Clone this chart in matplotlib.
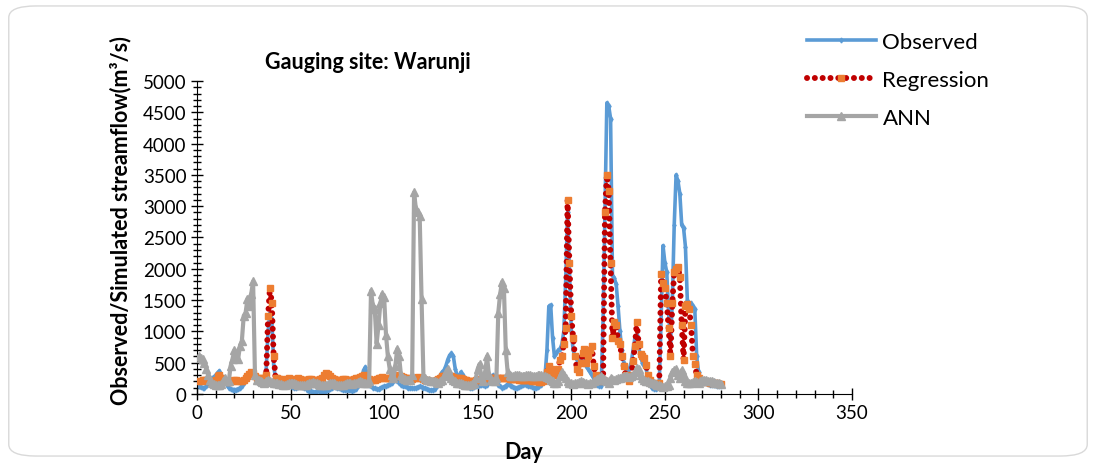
import numpy as np
import matplotlib
matplotlib.use('Agg')
import matplotlib.pyplot as plt
from matplotlib.patches import FancyBboxPatch
from matplotlib.ticker import MultipleLocator

plt.rcParams['font.family'] = ['Lato', 'DejaVu Sans']

days = np.arange(1, 281)

observed = [
    120, 110, 100, 100, 120, 180, 230, 250, 270, 300,
    340, 370, 300, 250, 200, 150, 100, 80, 70, 70,
    70, 80, 90, 130, 180, 240, 300, 350, 330, 300,
    280, 260, 250, 240, 250, 280, 400, 1000, 1300, 1200,
    450, 250, 200, 180, 170, 160, 150, 140, 130, 120,
    110, 100, 100, 110, 120, 110, 100, 90, 70, 50,
    40, 30, 30, 40, 50, 40, 30, 30, 40, 60,
    80, 100, 120, 110, 100, 90, 80, 70, 60, 60,
    70, 60, 50, 60, 80, 120, 180, 250, 380, 430,
    300, 150, 120, 100, 90, 80, 80, 90, 110, 120,
    130, 140, 160, 180, 200, 220, 200, 180, 150, 130,
    120, 110, 100, 100, 90, 90, 100, 110, 120, 110,
    100, 90, 80, 70, 60, 60, 80, 120, 200, 300,
    350, 380, 450, 550, 620, 650, 600, 400, 300, 250,
    350, 300, 200, 150, 120, 100, 100, 110, 120, 130,
    140, 150, 140, 130, 150, 200, 250, 300, 250, 200,
    150, 120, 100, 110, 130, 160, 150, 130, 110, 100,
    100, 110, 120, 140, 160, 150, 130, 120, 110, 100,
    100, 110, 120, 150, 200, 300, 700, 1400, 1420, 900,
    600, 650, 700, 720, 800, 1000, 1800, 2900, 2000, 1000,
    700, 600, 550, 500, 600, 650, 550, 450, 400, 350,
    300, 250, 200, 150, 130, 130, 1200, 2900, 4650, 4600,
    4400, 1900, 1850, 1750, 1400, 1000, 700, 500, 400, 350,
    400, 500, 700, 900, 950, 750, 600, 500, 450, 400,
    250, 150, 100, 80, 80, 100, 150, 1200, 2370, 2100,
    1950, 1300, 800, 1500, 2700, 3500, 3400, 3200, 2700, 2650,
    2350, 1500, 1450, 1450, 1400, 1350, 600, 350, 250, 200,
    180, 170, 160, 150, 150, 140, 140, 130, 130, 120,
]

regression = [
    200, 210, 220, 230, 220, 210, 200, 200, 210, 220,
    280, 300, 250, 220, 210, 200, 190, 200, 210, 220,
    220, 210, 200, 210, 230, 250, 280, 320, 350, 330,
    280, 260, 250, 240, 250, 260, 300, 1250, 1700, 1450,
    600, 260, 250, 240, 240, 230, 230, 240, 250, 240,
    230, 230, 240, 250, 240, 230, 220, 220, 230, 240,
    240, 230, 220, 220, 230, 240, 260, 300, 330, 320,
    280, 250, 240, 230, 220, 220, 230, 240, 240, 230,
    220, 220, 230, 240, 250, 260, 270, 280, 300, 280,
    260, 240, 230, 220, 230, 240, 250, 260, 270, 260,
    250, 250, 260, 270, 280, 290, 300, 290, 280, 270,
    260, 250, 250, 240, 240, 250, 260, 270, 260, 250,
    240, 230, 220, 210, 200, 200, 210, 220, 240, 260,
    280, 290, 300, 300, 290, 280, 270, 260, 250, 250,
    250, 240, 230, 220, 210, 200, 200, 210, 220, 230,
    230, 240, 240, 250, 250, 250, 260, 260, 260, 260,
    260, 260, 260, 250, 250, 250, 240, 240, 240, 240,
    240, 230, 230, 230, 230, 220, 220, 220, 210, 210,
    200, 200, 190, 190, 200, 250, 350, 450, 400, 300,
    300, 350, 400, 550, 600, 800, 1050, 3100, 2100, 1250,
    900, 600, 400, 350, 500, 650, 720, 500, 600, 700,
    760, 450, 300, 250, 220, 200, 220, 2900, 3500, 3250,
    2100, 900, 1150, 1100, 850, 800, 600, 450, 300, 250,
    200, 300, 530, 760, 1150, 800, 640, 600, 580, 470,
    300, 220, 180, 160, 160, 170, 180, 1920, 1780, 1700,
    1450, 1050, 600, 1450, 1950, 2000, 2030, 1870, 1100, 550,
    1400, 1430, 1350, 1100, 600, 480, 300, 250, 220, 200,
    200, 190, 190, 180, 180, 180, 170, 170, 160, 160,
]

ann = [
    600, 580, 560, 500, 400, 300, 220, 180, 160, 150,
    140, 150, 160, 200, 250, 200, 200, 450, 560, 700,
    600, 560, 770, 850, 1250, 1300, 1520, 1400, 1600, 1800,
    300, 230, 220, 200, 190, 180, 200, 230, 210, 190,
    180, 170, 170, 160, 160, 150, 150, 160, 170, 180,
    180, 170, 160, 150, 150, 140, 140, 150, 160, 170,
    180, 190, 180, 170, 160, 150, 140, 140, 150, 160,
    170, 180, 170, 160, 150, 150, 140, 150, 160, 170,
    180, 170, 160, 170, 180, 190, 200, 190, 180, 170,
    180, 200, 1650, 1400, 1350, 800, 1100, 1450, 1600, 1550,
    950, 600, 400, 300, 250, 450, 720, 600, 300, 250,
    240, 230, 220, 230, 300, 3220, 2950, 2900, 2850, 1520,
    290, 250, 230, 220, 210, 200, 200, 190, 180, 200,
    230, 280, 350, 400, 300, 250, 230, 200, 180, 170,
    170, 160, 150, 140, 140, 150, 160, 180, 250, 400,
    480, 250, 200, 350, 600, 300, 220, 200, 210, 250,
    1300, 1600, 1790, 1700, 700, 350, 300, 280, 290, 300,
    310, 300, 290, 280, 290, 300, 310, 300, 290, 280,
    290, 300, 310, 300, 290, 280, 270, 250, 220, 200,
    180, 170, 200, 280, 350, 300, 250, 200, 180, 170,
    160, 170, 180, 190, 200, 190, 180, 170, 160, 170,
    180, 200, 220, 240, 260, 280, 250, 220, 200, 180,
    250, 240, 230, 240, 250, 260, 270, 280, 290, 280,
    270, 280, 300, 350, 420, 400, 300, 250, 220, 210,
    200, 190, 180, 170, 160, 150, 140, 120, 110, 120,
    130, 140, 250, 350, 380, 400, 300, 250, 380, 300,
    200, 180, 170, 180, 190, 200, 190, 180, 200, 220,
    230, 220, 210, 200, 200, 190, 180, 180, 170, 160,
]

fig = plt.figure(figsize=(10.96, 4.64), dpi=100)
ax = fig.add_axes([0.1797, 0.1487, 0.5977, 0.6746])

# chart area border (rounded, light grey)
border = FancyBboxPatch((0.008, 0.015), 0.984, 0.97, boxstyle='round,pad=0,rounding_size=0.025',
                        transform=fig.transFigure, facecolor='none', edgecolor='#D9D9D9', linewidth=1)
fig.patches.append(border)

ax.plot(days, observed, color='#5B9BD5', linewidth=2.6, marker='d', markersize=2.5,
        label='Observed', zorder=2)
ax.plot(days, regression, color='#C00000', linewidth=4.3, linestyle=(0, (0.01, 1.3)),
        dash_capstyle='round', marker='s', markersize=4.5, markerfacecolor='#ED7D31',
        markeredgecolor='#ED7D31', label='Regression', zorder=3)
ax.plot(days, ann, color='#A5A5A5', linewidth=3, marker='^', markersize=5.5,
        label='ANN', zorder=4)

ax.set_xlim(0, 350)
ax.set_ylim(0, 5000)
ax.xaxis.set_major_locator(MultipleLocator(50))
ax.xaxis.set_minor_locator(MultipleLocator(10))
ax.yaxis.set_major_locator(MultipleLocator(500))
ax.yaxis.set_minor_locator(MultipleLocator(100))
ax.tick_params(which='both', direction='inout', color='black', labelsize=13.5)
ax.tick_params(which='major', length=8, width=1)
ax.tick_params(which='minor', length=6, width=1)
ax.spines['top'].set_visible(False)
ax.spines['right'].set_visible(False)

fig.text(0.336, 0.866, 'Gauging site: Warunji', fontsize=15.5, fontweight='bold', ha='center', va='center')
fig.text(0.110, 0.525, 'Observed/Simulated streamflow(m\u00b3/s)', fontsize=15.5, fontweight='bold',
         rotation=90, ha='center', va='center')
fig.text(0.478, 0.025, 'Day', fontsize=15.5, fontweight='bold', ha='center', va='center')

ax.legend(loc='upper left', bbox_to_anchor=(0.718, 0.972), bbox_transform=fig.transFigure,
          frameon=False, fontsize=16, handlelength=3.1, labelspacing=0.8, handletextpad=0.3)

fig.savefig('out.png', dpi=100)
